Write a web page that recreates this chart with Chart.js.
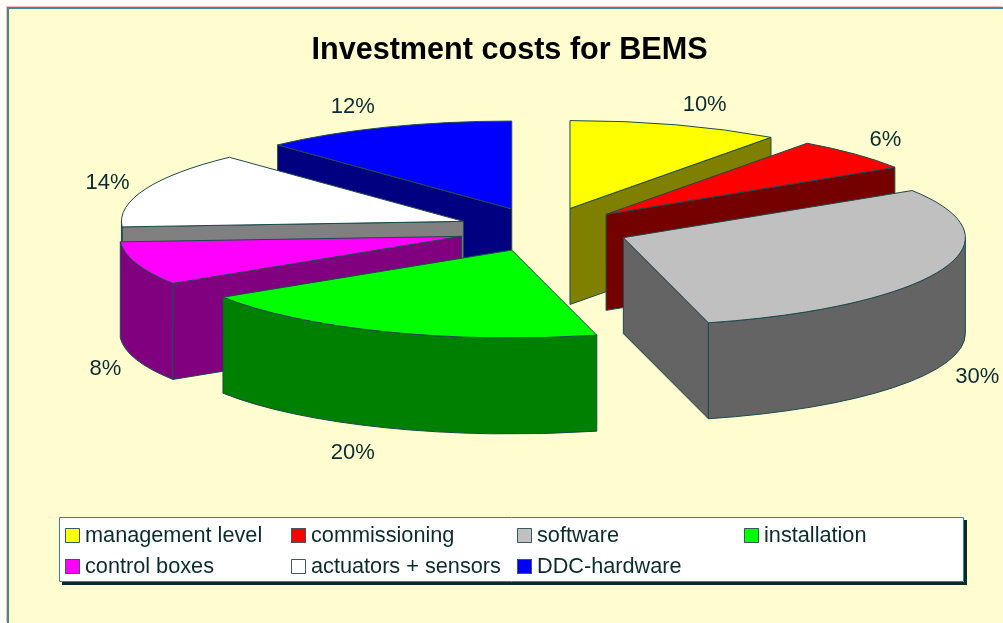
<!DOCTYPE html>
<html>
<head>
<meta charset="utf-8">
<title>Investment costs for BEMS</title>
<script src="https://cdn.jsdelivr.net/npm/chart.js@4"></script>
<style>
	html, body { margin: 0; padding: 0; background: #fffdf8; }
	#panel { position: absolute; left: 7px; top: 7px; width: 996px; height: 616px; box-sizing: border-box; background: #fffdd0; border-left: 2px solid #3d8f8c; border-top: 2px solid #3d8f8c; box-shadow: -1px -1px 0 #ffb6b6; }
	#chart { position: absolute; left: 0; top: 0; }
</style>
</head>
<body>
<div id="panel"></div>
<canvas id="chart" width="1003" height="623"></canvas>
<script>
const categories = ['management level', 'commissioning', 'software', 'installation', 'control boxes', 'actuators + sensors', 'DDC-hardware'];
const shares = [10, 6, 30, 20, 8, 14, 12];
const topColors = ['#ffff00', '#ff0000', '#c0c0c0', '#00ff00', '#ff00ff', '#ffffff', '#0000ff'];
const wallColors = ['#808000', '#750000', '#646464', '#008000', '#800080', '#808080', '#000080'];
// back to front, slices overlap each other
const drawOrder = [0, 1, 2, 6, 5, 4, 3];
// small x shifts for the percent labels, by eye
const labelNudge = [-4, -3, 3, 0, 2, -5, 0];

const PIE = { cx: 543.4, cy: 229.5, radius: 342, squash: 0.257, depth: 96, explode: 86 };
const LINE_COLOR = '#1c4a4a';
const TEXT_COLOR = '#0a2c2c';

function sliceGeometry(arc) {
	const mid = (arc.startAngle + arc.endAngle) / 2;
	return {
		x: PIE.cx + Math.cos(mid) * PIE.explode,
		y: PIE.cy + Math.sin(mid) * PIE.explode * PIE.squash,
		a: arc.outerRadius,
		b: arc.outerRadius * PIE.squash,
		mid
	};
}

function paint(ctx, fill) {
	ctx.fillStyle = fill;
	ctx.fill();
	ctx.strokeStyle = LINE_COLOR;
	ctx.lineWidth = 1;
	ctx.lineJoin = 'round';
	ctx.stroke();
}

function radialWall(ctx, g, angle, fill) {
	const ex = g.x + Math.cos(angle) * g.a;
	const ey = g.y + Math.sin(angle) * g.b;
	ctx.beginPath();
	ctx.moveTo(g.x, g.y);
	ctx.lineTo(ex, ey);
	ctx.lineTo(ex, ey + PIE.depth);
	ctx.lineTo(g.x, g.y + PIE.depth);
	ctx.closePath();
	paint(ctx, fill);
}

function outerWall(ctx, g, from, to, fill) {
	ctx.beginPath();
	ctx.ellipse(g.x, g.y, g.a, g.b, 0, from, to);
	ctx.ellipse(g.x, g.y + PIE.depth, g.a, g.b, 0, to, from, true);
	ctx.closePath();
	paint(ctx, fill);
}

function drawSlice(ctx, arc, i) {
	const g = sliceGeometry(arc);
	const start = arc.startAngle;
	const end = arc.endAngle;
	// only walls facing the viewer
	if (Math.cos(start) < -1e-6) radialWall(ctx, g, start, wallColors[i]);
	if (Math.cos(end) > 1e-6) radialWall(ctx, g, end, wallColors[i]);
	const from = Math.max(start, 0);
	const to = Math.min(end, Math.PI);
	if (to > from) outerWall(ctx, g, from, to, wallColors[i]);

	// top face: the library's own arc, flattened
	ctx.save();
	ctx.translate(g.x, g.y);
	ctx.scale(1, PIE.squash);
	ctx.translate(-arc.x, -arc.y);
	arc.draw(ctx);
	ctx.restore();

	ctx.beginPath();
	ctx.moveTo(g.x, g.y);
	ctx.ellipse(g.x, g.y, g.a, g.b, 0, start, end);
	ctx.closePath();
	ctx.strokeStyle = LINE_COLOR;
	ctx.lineWidth = 1;
	ctx.stroke();
}

function drawPercents(chart, arcs) {
	const ctx = chart.ctx;
	ctx.save();
	ctx.font = '22px "Liberation Sans", Arial, sans-serif';
	ctx.fillStyle = TEXT_COLOR;
	ctx.textAlign = 'center';
	ctx.textBaseline = 'middle';
	arcs.forEach((arc, i) => {
		const g = sliceGeometry(arc);
		const cos = Math.cos(g.mid);
		const sin = Math.sin(g.mid);
		const x = g.x + cos * g.a + Math.sign(cos) * 33 + labelNudge[i];
		const y = g.y + sin * g.b + sin * 24 + 2.5 + (sin > 0 ? PIE.depth : 0);
		ctx.fillText(shares[i] + '%', x, y);
	});
	ctx.restore();
}

function drawLegend(chart) {
	const ctx = chart.ctx;
	const box = { x: 59, y: 517, w: 905, h: 65 };
	const cols = [65, 291, 517, 744];
	const rows = [535, 566];
	ctx.save();
	ctx.fillStyle = '#0c2a2a';
	ctx.fillRect(box.x + 3, box.y + 3, box.w, box.h);
	ctx.fillStyle = '#ffffff';
	ctx.fillRect(box.x, box.y, box.w, box.h);
	ctx.strokeStyle = '#2f8a86';
	ctx.lineWidth = 1;
	ctx.strokeRect(box.x + 0.5, box.y + 0.5, box.w - 1, box.h - 1);
	ctx.font = '21.7px "Liberation Sans", Arial, sans-serif';
	ctx.textBaseline = 'middle';
	categories.forEach((name, i) => {
		const x = cols[i % 4];
		const y = rows[Math.floor(i / 4)];
		ctx.fillStyle = topColors[i];
		ctx.fillRect(x, y - 7, 15, 15);
		ctx.strokeStyle = '#3c5a5a';
		ctx.strokeRect(x + 0.5, y - 6.5, 14, 14);
		ctx.fillStyle = TEXT_COLOR;
		ctx.fillText(name, x + 20, y + 1);
	});
	ctx.restore();
}

const pie3d = {
	id: 'pie3d',
	beforeDatasetDraw(chart, args) {
		drawOrder.forEach(i => drawSlice(chart.ctx, args.meta.data[i], i));
		return false;
	},
	afterDraw(chart) {
		drawPercents(chart, chart.getDatasetMeta(0).data);
		drawLegend(chart);
	}
};

new Chart(document.getElementById('chart'), {
	type: 'pie',
	data: {
		labels: categories,
		datasets: [{ data: shares, backgroundColor: topColors, borderWidth: 0 }]
	},
	options: {
		responsive: false,
		animation: false,
		radius: PIE.radius,
		layout: { padding: { left: 16 } },
		plugins: {
			legend: { display: false },
			tooltip: { enabled: false },
			title: {
				display: true,
				text: 'Investment costs for BEMS',
				color: '#000000',
				font: { family: '"Liberation Sans", Arial, sans-serif', size: 30.6, weight: 'bold' },
				padding: { top: 32, bottom: 10 }
			}
		}
	},
	plugins: [pie3d]
});
</script>
</body>
</html>
